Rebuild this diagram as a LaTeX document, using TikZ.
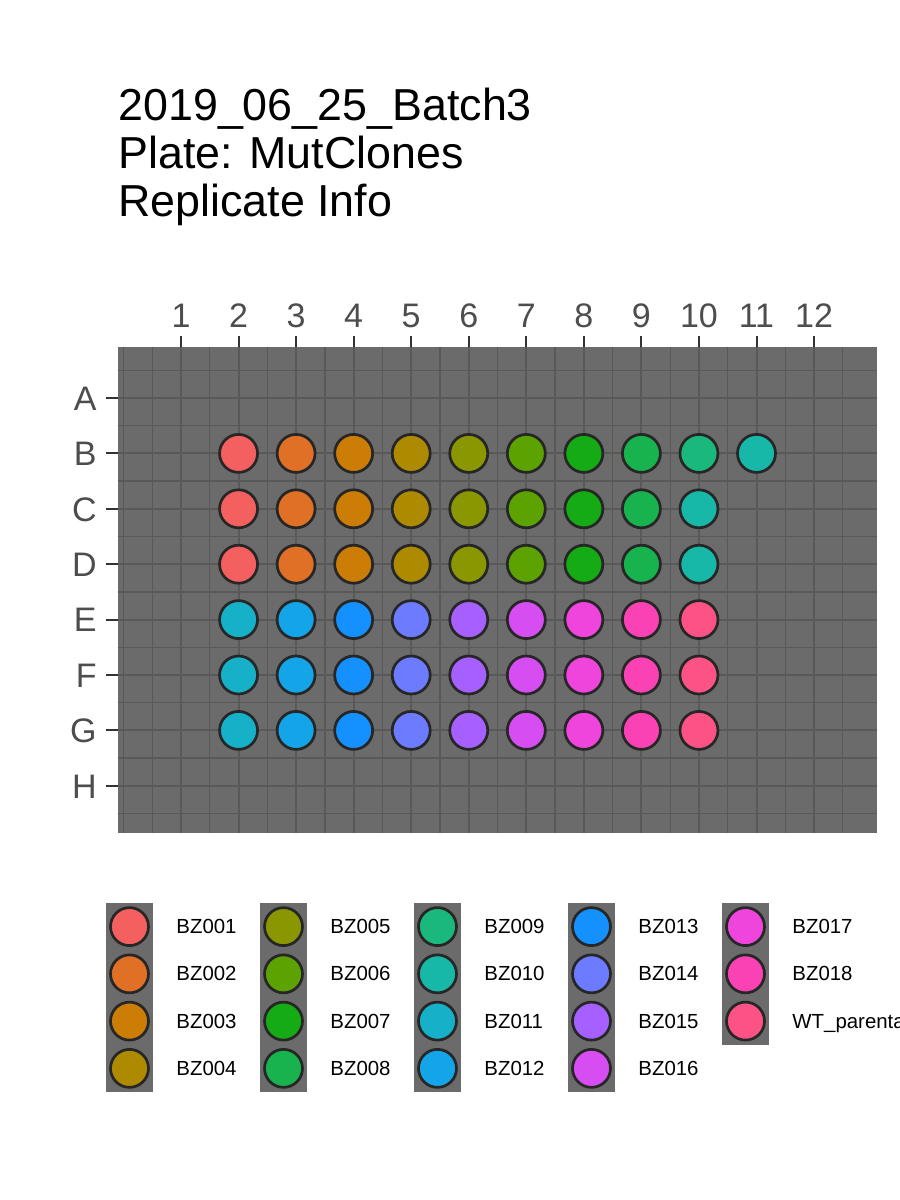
\documentclass[tikz,border=0pt]{standalone}
\usepackage{fontspec}
\setmainfont{Liberation Sans}
\usepackage{tikz}
\usetikzlibrary{positioning}
\definecolor{PanelGray}{HTML}{6B6B6B}
\definecolor{GridGray}{HTML}{595959}
\definecolor{AxisText}{HTML}{4D4D4D}
\definecolor{WellEdge}{HTML}{262626}
\definecolor{clone1}{HTML}{F45F5F}
\definecolor{clone2}{HTML}{E07025}
\definecolor{clone3}{HTML}{CC7D05}
\definecolor{clone4}{HTML}{AD8A00}
\definecolor{clone5}{HTML}{8A9700}
\definecolor{clone6}{HTML}{5CA200}
\definecolor{clone7}{HTML}{14AB14}
\definecolor{clone8}{HTML}{18B24E}
\definecolor{clone9}{HTML}{1BB87E}
\definecolor{clone10}{HTML}{17B8A8}
\definecolor{clone11}{HTML}{16B0C8}
\definecolor{clone12}{HTML}{14A5E8}
\definecolor{clone13}{HTML}{1590FF}
\definecolor{clone14}{HTML}{6C7BFF}
\definecolor{clone15}{HTML}{A560FF}
\definecolor{clone16}{HTML}{D64EF2}
\definecolor{clone17}{HTML}{F045DC}
\definecolor{clone18}{HTML}{FA42B4}
\definecolor{clone19}{HTML}{FC5285}

\begin{document}
\begin{tikzpicture}[
  x=0.5pt, y=-0.5pt,
  titletext/.style={anchor=base west, inner sep=0pt, font=\fontsize{22.4}{26}\selectfont},
  axislabel/.style={inner sep=0pt, text=AxisText, font=\fontsize{17}{20}\selectfont},
  keylabel/.style={inner sep=0pt, text depth=0pt, font=\fontsize{10.2}{12}\selectfont},
  well/.style={circle, draw=WellEdge, line width=1.35pt, minimum size=19pt, inner sep=0pt},
  minorline/.style={draw=GridGray, line width=0.65pt},
  majorline/.style={draw=GridGray, line width=1pt},
  plotick/.style={draw=black!80, line width=1pt}
]
\useasboundingbox (0,0) rectangle (900,1200);

\node[titletext] (title) at (118,120) {2019\_06\_25\_Batch3};
\node[titletext] (plate) at (118,168) {Plate: MutClones};
\node[titletext] (info) at (118,216) {Replicate Info};

\begin{scope}[shift={(123.45,342.6)}, x=28.775pt, y=-27.7pt]
  \fill[PanelGray] (-0.0947,0.079) rectangle (13.094,8.852);
  \foreach \c in {0,0.5,...,12.5} \draw[minorline] (\c,0.079) -- (\c,8.852);
  \foreach \r in {0.5,1,...,8.5} \draw[minorline] (-0.0947,\r) -- (13.094,\r);
  \foreach \c in {1,...,12} {
    \draw[majorline] (\c,0.079) -- (\c,8.852);
    \draw[plotick] (\c,-0.119) -- (\c,0.079);
    \node[axislabel, anchor=base] (col\c) at (\c,-0.2816) {\c};
  }
  \foreach \r/\lab in {1/A,2/B,3/C,4/D,5/E,6/F,7/G,8/H} {
    \draw[majorline] (-0.0947,\r) -- (13.094,\r);
    \draw[plotick] (-0.303,\r) -- (-0.0947,\r);
    \node[axislabel, anchor=base east, yshift=-6.1pt] (row\lab) at (-0.46,\r) {\lab};
  }

  % wells
  \foreach \r in {2,3,4} \foreach \c in {2,...,9} {
    \pgfmathtruncatemacro{\n}{\c-1}
    \node[well, fill=clone\n] (w\r-\c) at (\c,\r) {};
  }
  \node[well, fill=clone9] (w2-10) at (10,2) {};
  \node[well, fill=clone10] (w3-10) at (10,3) {};
  \node[well, fill=clone10] (w4-10) at (10,4) {};
  \node[well, fill=clone10] (w2-11) at (11,2) {};
  \foreach \r in {5,6,7} \foreach \c in {2,...,10} {
    \pgfmathtruncatemacro{\n}{\c+9}
    \node[well, fill=clone\n] (w\r-\c) at (\c,\r) {};
  }
\end{scope}

% legend
\foreach \i/\lab in {1/BZ001,2/BZ002,3/BZ003,4/BZ004,5/BZ005,6/BZ006,7/BZ007,8/BZ008,9/BZ009,10/BZ010,
    11/BZ011,12/BZ012,13/BZ013,14/BZ014,15/BZ015,16/BZ016,17/BZ017,18/BZ018,19/WT\_parental} {
  \pgfmathtruncatemacro{\k}{(\i-1)/4}
  \pgfmathtruncatemacro{\j}{mod(\i-1,4)}
  \fill[PanelGray] ({106+154*\k},{903+47.25*\j}) rectangle ++(47,47.25);
  \node[well, fill=clone\i] (key\i) at ({129.5+154*\k},{926.6+47.25*\j}) {};
  \node[keylabel, right=13.1pt of key\i] (lab\i) {\lab};
}
\end{tikzpicture}
\end{document}
